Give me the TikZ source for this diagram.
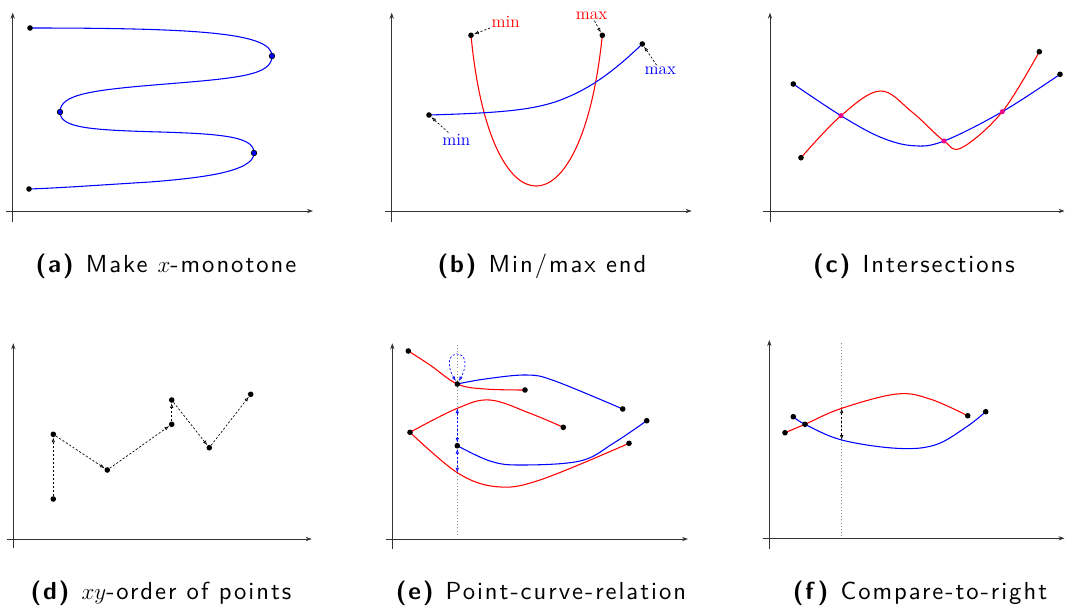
\documentclass[tikz,border=0pt]{standalone}
\usepackage{fontspec}
\newfontfamily\capfont{lmsans10-regular.otf}[BoldFont=lmsans10-bold.otf, LetterSpace=8]
\usetikzlibrary{arrows.meta}
\tikzset{
  axisline/.style={draw=black!80, line width=0.55pt, -{Stealth[length=4.5pt,width=3.2pt]}},
  ptdot/.style={circle, fill=black, inner sep=0pt, minimum size=4.2pt},
  bluedot/.style={circle, fill=blue, draw=black, line width=0.5pt, inner sep=0pt, minimum size=4.2pt},
  magdot/.style={circle, fill=magenta, inner sep=0pt, minimum size=3.8pt},
  redcurve/.style={draw=red, line width=0.8pt},
  bluecurve/.style={draw=blue, line width=0.8pt},
  darrow/.style={draw=black, dash pattern=on 1.6pt off 1.4pt, line width=0.5pt, -{Latex[open,length=3.6pt,width=2.6pt]}},
  dboth/.style={draw=black, dash pattern=on 1.6pt off 1.4pt, line width=0.5pt, {Latex[open,length=3.6pt,width=2.6pt]}-{Latex[open,length=3.6pt,width=2.6pt]}},
  bboth/.style={draw=blue, dash pattern=on 1.6pt off 1.4pt, line width=0.5pt, {Latex[open,length=3.6pt,width=2.6pt]}-{Latex[open,length=3.6pt,width=2.6pt]}},
  guide/.style={draw=black!45, dotted, line width=0.4pt},
  lbl/.style={font=\fontsize{12.9}{14}\selectfont, inner sep=1pt},
  captext/.style={font=\capfont\fontsize{18.5}{22}\selectfont, anchor=base, inner sep=0pt},
}
\begin{document}
\begin{tikzpicture}[x=0.75pt, y=-0.75pt]
\useasboundingbox (0,0) rectangle (1065,611);

% ---------------- (a) ----------------
\coordinate (ay0) at (12.7,222); \coordinate (ay1) at (12.7,12.7);
\coordinate (ax0) at (6,211);    \coordinate (ax1) at (313,211);
\draw[axisline] (ay0) -- (ay1);
\draw[axisline] (ax0) -- (ax1);
\coordinate (a1) at (30,28);
\coordinate (a2) at (272,56);
\coordinate (a3) at (60,112);
\coordinate (a4) at (254,153);
\coordinate (a5) at (29,189);
\draw[bluecurve] (a1) .. controls (200,28) and (272,33) .. (a2)
  .. controls (272,75) and (240,78) .. (166,84)
  .. controls (92,90) and (60,94) .. (a3)
  .. controls (60,128) and (90,130) .. (160,132)
  .. controls (230,134) and (254,138) .. (a4)
  .. controls (254,172) and (200,178) .. (150,182)
  .. controls (100,185) and (60,188) .. (a5);
\node[ptdot] (da1) at (a1) {};
\node[bluedot] (da2) at (a2) {};
\node[bluedot] (da3) at (a3) {};
\node[bluedot] (da4) at (a4) {};
\node[ptdot] (da5) at (a5) {};

% ---------------- (b) ----------------
\coordinate (by0) at (391.7,222); \coordinate (by1) at (391.7,12.7);
\coordinate (bx0) at (385,211);   \coordinate (bx1) at (691.7,211);
\draw[axisline] (by0) -- (by1);
\draw[axisline] (bx0) -- (bx1);
\coordinate (r1) at (471,35.3);
\coordinate (r2) at (602.3,35.3);
\coordinate (b1) at (429,115);
\coordinate (b2) at (642.3,44);
\draw[redcurve] (r1) .. controls (490,236.3) and (582,236.3) .. (r2);
\draw[bluecurve] (b1) .. controls (500,113) and (530,110) .. (555,102)
  .. controls (590,90) and (615,70) .. (b2);
\node[ptdot] (dr1) at (r1) {};
\node[ptdot] (dr2) at (r2) {};
\node[ptdot] (db1) at (b1) {};
\node[ptdot] (db2) at (b2) {};
\node[lbl, text=red] (lrmin) at (505.7,22) {min};
\node[lbl, text=red] (lrmax) at (591.5,15.3) {max};
\node[lbl, text=blue] (lbmax) at (660.3,70.7) {max};
\node[lbl, text=blue] (lbmin) at (456.3,139.7) {min};
\draw[darrow] (lrmin) -- (dr1);
\draw[darrow] (lrmax) -- (dr2);
\draw[darrow] (lbmax) -- (db2);
\draw[darrow] (lbmin) -- (db1);

% ---------------- (c) ----------------
\coordinate (cy0) at (770,222); \coordinate (cy1) at (770,12.7);
\coordinate (cx0) at (763,211); \coordinate (cx1) at (1064.5,211);
\draw[axisline] (cy0) -- (cy1);
\draw[axisline] (cx0) -- (cx1);
\coordinate (cb1) at (793.3,84);
\coordinate (cb2) at (1060,74.3);
\coordinate (cr1) at (801,157.7);
\coordinate (cr2) at (1039.3,51.7);
\coordinate (ci1) at (841,115.7);
\coordinate (ci2) at (944,141);
\coordinate (ci3) at (1002.3,111.7);
\draw[bluecurve] plot[smooth, tension=0.6] coordinates {(cb1) (ci1) (880,137) (913,145.7) (ci2) (ci3) (cb2)};
\draw[redcurve] plot[smooth, tension=0.6] coordinates {(cr1) (ci1) (880,91) (912,112) (ci2) (961.7,147.7) (ci3) (cr2)};
\node[ptdot] (dcb1) at (cb1) {};
\node[ptdot] (dcb2) at (cb2) {};
\node[ptdot] (dcr1) at (cr1) {};
\node[ptdot] (dcr2) at (cr2) {};
\node[magdot] (dci1) at (ci1) {};
\node[magdot] (dci2) at (ci2) {};
\node[magdot] (dci3) at (ci3) {};

% ---------------- (d) ----------------
\coordinate (dy0) at (13.3,548); \coordinate (dy1) at (13.3,343.3);
\coordinate (dx0) at (7,539);    \coordinate (dx1) at (311.7,539);
\draw[axisline] (dy0) -- (dy1);
\draw[axisline] (dx0) -- (dx1);
\node[ptdot] (p1) at (53.3,499) {};
\node[ptdot] (p2) at (53.3,434.3) {};
\node[ptdot] (p3) at (107.3,470) {};
\node[ptdot] (p4) at (171.7,424.3) {};
\node[ptdot] (p5) at (171.7,400) {};
\node[ptdot] (p6) at (209.3,447.7) {};
\node[ptdot] (p7) at (250.7,394.3) {};
\draw[darrow] (p1) -- (p2);
\draw[darrow] (p2) -- (p3);
\draw[darrow] (p3) -- (p4);
\draw[darrow] (p4) -- (p5);
\draw[darrow] (p5) -- (p6);
\draw[darrow] (p6) -- (p7);

% ---------------- (e) ----------------
\coordinate (ey0) at (392.3,549); \coordinate (ey1) at (392.3,343.3);
\coordinate (ex0) at (386,539);   \coordinate (ex1) at (688,539);
\draw[axisline] (ey0) -- (ey1);
\draw[axisline] (ex0) -- (ex1);
\coordinate (eg0) at (457.3,345); \coordinate (eg1) at (457.3,535);
\draw[guide] (eg0) -- (eg1);
\coordinate (e1) at (408.3,351);
\coordinate (e2) at (457.3,384);
\coordinate (e3) at (525,390);
\coordinate (e4) at (622.7,409);
\coordinate (e5) at (410,432.3);
\coordinate (e6) at (563.3,427.3);
\coordinate (e7) at (457.3,445.7);
\coordinate (e8) at (629,443.3);
\coordinate (e9) at (646.7,420.7);
\coordinate (er2x) at (457.3,408.3);
\coordinate (er3x) at (457.3,472.7);
\draw[redcurve] plot[smooth, tension=0.6] coordinates {(e1) (430,365) (e2) (485,389) (e3)};
\draw[bluecurve] plot[smooth, tension=0.6] coordinates {(e2) (485,379) (526.7,375) (555,381) (e4)};
\draw[redcurve] plot[smooth, tension=0.6] coordinates {(e5) (er2x) (490,400) (530,413.3) (e6)};
\draw[redcurve] plot[smooth, tension=0.6] coordinates {(e5) (er3x) (496.7,486.7) (540,480) (e8)};
\draw[bluecurve] plot[smooth, tension=0.6] coordinates {(e7) (490,461) (520,465) (580,461) (613.3,443.3) (e9)};
\node[ptdot] (de1) at (e1) {};
\node[ptdot] (de2) at (e2) {};
\node[ptdot] (de3) at (e3) {};
\node[ptdot] (de4) at (e4) {};
\node[ptdot] (de5) at (e5) {};
\node[ptdot] (de6) at (e6) {};
\node[ptdot] (de7) at (e7) {};
\node[ptdot] (de8) at (e8) {};
\node[ptdot] (de9) at (e9) {};
\draw[bboth] (de2) .. controls (436,346) and (478,346) .. (de2);
\draw[bboth] (er2x) -- (de7);
\draw[bboth] (de7) -- (er3x);

% ---------------- (f) ----------------
\coordinate (fy0) at (769.3,549); \coordinate (fy1) at (769.3,340);
\coordinate (fx0) at (763.3,538.3); \coordinate (fx1) at (1064.5,538.3);
\draw[axisline] (fy0) -- (fy1);
\draw[axisline] (fx0) -- (fx1);
\coordinate (fg0) at (841.7,343.3); \coordinate (fg1) at (841.7,535.7);
\draw[guide] (fg0) -- (fg1);
\coordinate (f1) at (785,432.7);
\coordinate (f2) at (793.3,416.7);
\coordinate (f3) at (805,424.3);
\coordinate (f4) at (967.7,415.7);
\coordinate (f5) at (985.7,411.7);
\coordinate (frx) at (841.7,408.3);
\coordinate (fbx) at (841.7,440);
\draw[redcurve] plot[smooth, tension=0.6] coordinates {(f1) (f3) (frx) (896.7,394) (930,399) (f4)};
\draw[bluecurve] plot[smooth, tension=0.6] coordinates {(f2) (f3) (fbx) (896.7,448.3) (935,445) (966.7,426.7) (f5)};
\node[ptdot] (df1) at (f1) {};
\node[ptdot] (df2) at (f2) {};
\node[ptdot] (df3) at (f3) {};
\node[ptdot] (df4) at (f4) {};
\node[ptdot] (df5) at (f5) {};
\draw[dboth] (frx) -- (fbx);

% ---------------- captions ----------------
\node[captext] (capa) at (166,272) {\textbf{(a)} Make $x$-monotone};
\node[captext] (capb) at (542,272) {\textbf{(b)} Min/max end};
\node[captext] (capc) at (914,272) {\textbf{(c)} Intersections};
\node[captext] (capd) at (161,599) {\textbf{(d)} $xy$-order of points};
\node[captext] (cape) at (541,599) {\textbf{(e)} Point-curve-relation};
\node[captext] (capf) at (920,599) {\textbf{(f)} Compare-to-right};
\end{tikzpicture}
\end{document}
